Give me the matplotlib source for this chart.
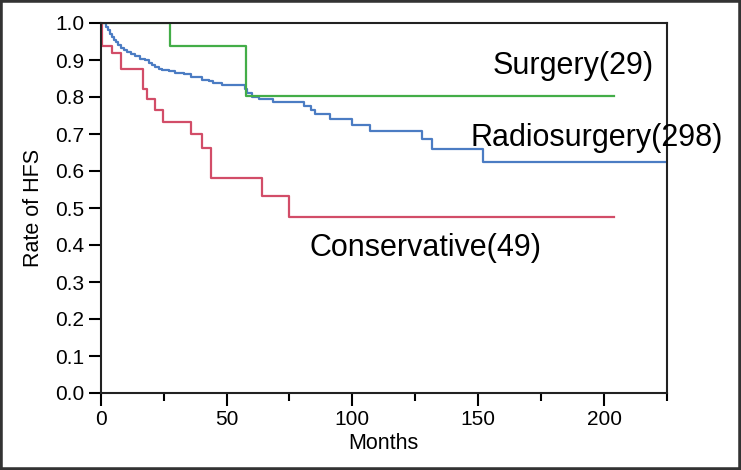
import numpy as np
import matplotlib
matplotlib.use("Agg")
import matplotlib.pyplot as plt
from matplotlib.patches import Rectangle

plt.rcParams['font.family'] = ['Liberation Sans', 'DejaVu Sans']

# Kaplan-Meier style step data (months, rate after each drop)
surgery_t = [0, 27.5, 57.6]
surgery_v = [1.0, 0.939, 0.803]
surgery_end = 204

radio_t = [0, 2.0, 2.8, 3.6, 4.4, 5.2, 6.0, 7.0, 8.0, 9.2,
           10.5, 12.0, 13.5, 15.5, 17.5, 19.0, 20.3, 21.6, 23.0, 24.5,
           27.0, 29.5, 33.0, 36.0, 40.2, 43.0, 44.8, 48.1, 57.4, 58.0,
           60.0, 62.7, 68.6, 80.8, 83.5, 85.0, 91.0, 100.0, 107.0, 127.8,
           131.6, 151.8]
radio_v = [1.0, 0.99, 0.98, 0.97, 0.962, 0.955, 0.948, 0.94, 0.933, 0.927,
           0.921, 0.915, 0.91, 0.904, 0.899, 0.893, 0.887, 0.881, 0.877, 0.873,
           0.869, 0.865, 0.861, 0.853, 0.846, 0.842, 0.838, 0.832, 0.822, 0.81,
           0.801, 0.794, 0.786, 0.776, 0.764, 0.753, 0.740, 0.723, 0.707, 0.686,
           0.660, 0.623]
radio_end = 225

cons_t = [0, 0.7, 4.5, 8.2, 16.9, 18.3, 21.6, 24.9, 35.9, 40.4, 43.9, 64.0, 74.9]
cons_v = [1.0, 0.939, 0.918, 0.877, 0.821, 0.794, 0.765, 0.733, 0.700, 0.661, 0.580, 0.532, 0.476]
cons_end = 204

labels = ["Surgery(29)", "Radiosurgery(298)", "Conservative(49)"]
label_x = [155.6, 147.0, 83.0]
label_y = [0.862, 0.668, 0.370]

fig = plt.figure(figsize=(7.41, 4.70), dpi=100)
ax = fig.add_axes([100.7 / 741, 77 / 470, (667 - 100.7) / 741, 370 / 470])

def km(t, v, end):
    return np.append(t, end), np.append(v, v[-1])

x, y = km(cons_t, cons_v, cons_end)
ax.step(x, y, where='post', color='#d24d68', lw=1.6)
x, y = km(radio_t, radio_v, radio_end)
ax.step(x, y, where='post', color='#4b7cc3', lw=1.6)
x, y = km(surgery_t, surgery_v, surgery_end)
ax.step(x, y, where='post', color='#43ad48', lw=1.6)

for s, tx, ty in zip(labels, label_x, label_y):
    ax.text(tx, ty, s, fontsize=22, ha='left', va='baseline', color='black')

ax.set_xlim(0, 225)
ax.set_ylim(0, 1.0)
ax.set_xticks([0, 50, 100, 150, 200])
ax.set_xticks([25, 75, 125, 175, 225], minor=True)
ax.set_yticks(np.arange(0, 1.01, 0.1))
ax.set_yticklabels(["%.1f" % v for v in np.arange(0, 1.01, 0.1)])
ax.tick_params(axis='both', which='major', direction='out', length=9, width=1.5,
               labelsize=15, pad=3)
ax.tick_params(axis='x', which='minor', direction='out', length=6, width=1.5)
for sp in ax.spines.values():
    sp.set_linewidth(1.5)
    sp.set_color('#222222')

ax.set_xlabel("Months", fontsize=15.5, labelpad=3)
ax.set_ylabel("Rate of HFS", fontsize=15.5, labelpad=8)

fig.patches.append(Rectangle((0, 0), 1, 1, transform=fig.transFigure,
                             fill=False, edgecolor='#333333', lw=4))

fig.savefig("out.png", dpi=100)
